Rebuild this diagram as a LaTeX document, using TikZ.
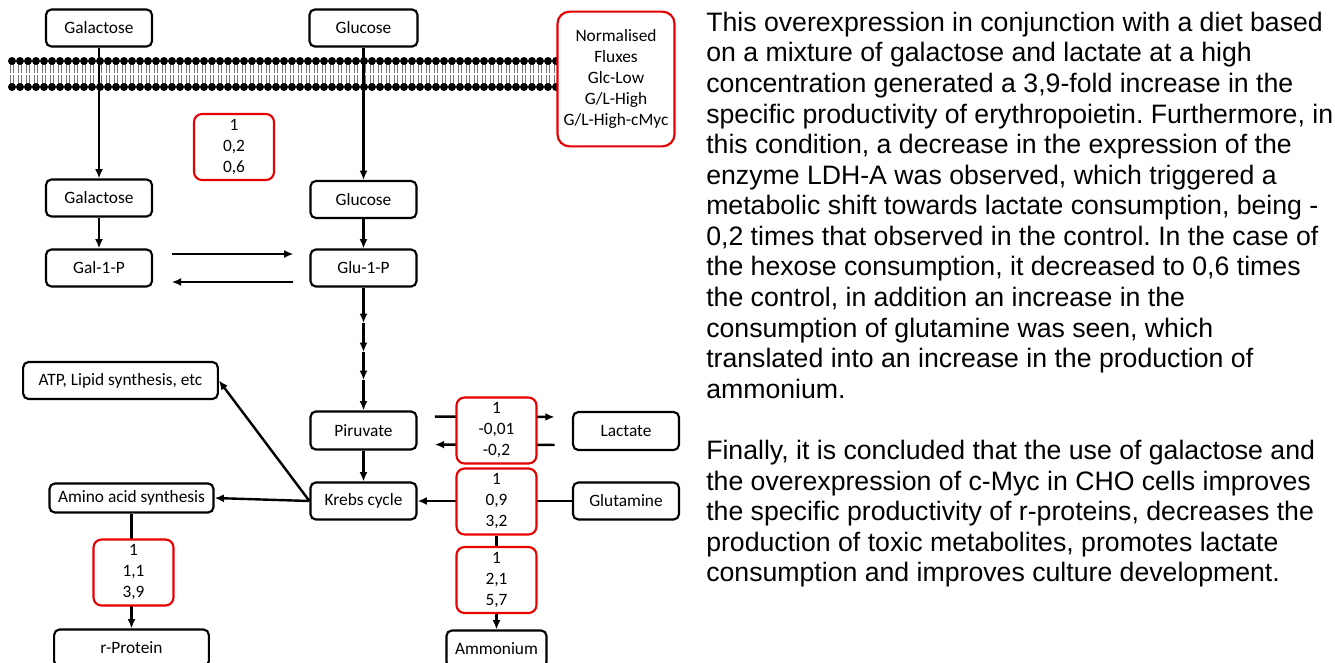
\documentclass[tikz,border=0pt]{standalone}
\usepackage{fontspec}
\setmainfont{Carlito}
\newfontfamily\paperfont{Liberation Sans}
\usetikzlibrary{arrows.meta}
\definecolor{fluxred}{RGB}{230,0,0}
\frenchspacing
\tikzset{
	metab/.style={draw, line width=1.6pt, rounded corners=4pt, fill=white, inner sep=0pt,
		minimum width=79.5pt, minimum height=27.75pt, font=\fontsize{13}{15.75}\selectfont},
	flux/.style={draw=fluxred, line width=1.6pt, rounded corners=6pt, fill=white, inner sep=0pt,
		align=center, minimum width=60pt, minimum height=49.5pt, font=\fontsize{13}{15.75}\selectfont},
	flow/.style={line width=1.8pt},
}
\begin{document}
\begin{tikzpicture}[x=0.75pt,y=-0.75pt,>={Latex[length=7pt,width=6pt]}]
			\useasboundingbox (0,0) rectangle (1335,662);
			\clip (0,0) rectangle (1335,662);
			\foreach \i in {0,...,68} {
				\draw[black!55, line width=0.5pt] (10.5+8*\i,64)--(10.5+8*\i,73) (13.5+8*\i,64)--(13.5+8*\i,73)
					(10.5+8*\i,75)--(10.5+8*\i,84) (13.5+8*\i,75)--(13.5+8*\i,84);
				\fill (12+8*\i,61) circle (3pt) (12+8*\i,87) circle (3pt);
			}
			\node[metab] (galout) at (99,28) {Galactose};
			\node[metab, minimum width=81pt] (glcout) at (363.5,28) {Glucose};
			\node[metab] (galin) at (99,198) {Galactose};
			\node[metab] (glcin) at (363.5,199.5) {Glucose};
			\node[metab] (galp) at (99,268) {Gal-1-P};
			\node[metab] (glup) at (363.5,268) {Glu-1-P};
			\node[metab, minimum width=146pt] (atp) at (120.5,380.5) {ATP, Lipid synthesis, etc};
			\node[metab, minimum height=28.5pt] (piru) at (363.5,430.5) {Piruvate};
			\node[metab, minimum height=28.5pt] (lact) at (626,431) {Lactate};
			\node[metab] (krebs) at (363.5,501) {Krebs cycle};
			\node[metab] (gln) at (626,501) {Glutamine};
			\node[metab, minimum width=123pt, minimum height=21.75pt] (amino) at (131.5,498) {Amino acid synthesis};
			\node[metab, minimum width=116pt] (rprot) at (131.5,648) {r-Protein};
			\node[metab, minimum width=75pt] (ammon) at (496.5,649) {Ammonium};
			\coordinate (s1) at (363.5,323);
			\coordinate (s2) at (363.5,352);
			\coordinate (s3) at (363.5,380);
			\draw[flow,->] (galout)--(galin);
			\draw[flow,->] (glcout)--(glcin);
			\draw[flow,->] (galin)--(galp);
			\draw[flow,->] (glcin)--(glup);
			\draw[flow,->,shorten <=14pt,shorten >=12pt] ([yshift=10.5pt]galp.east)--([yshift=10.5pt]glup.west);
			\draw[flow,->,shorten <=12pt,shorten >=14pt] ([yshift=-10.5pt]glup.west)--([yshift=-10.5pt]galp.east);
			\draw[flow,->] (glup)--(s1);
			\draw[flow,->] (s1)--(s2);
			\draw[flow,->] (s2)--(s3);
			\draw[flow,->] (s3)--(piru);
			\draw[flow,->] (piru)--(krebs);
			\draw[flow,->,shorten <=13pt,shorten >=13pt] ([yshift=10.5pt]piru.east)--([yshift=10.5pt]lact.west);
			\draw[flow,->,shorten <=13pt,shorten >=13pt] ([yshift=-10.5pt]lact.west)--([yshift=-10.5pt]piru.east);
			\draw[flow,->] (gln)--(krebs);
			\draw[flow,->] (krebs.west)--(amino.east);
			\draw[flow,->] (krebs.west)--(atp.east);
			\draw[flow,->] (amino)--(rprot);
			\node[flux] (fhex) at (234,147) {1\\0,2\\0,6};
			\node[flux, minimum width=87.75pt, minimum height=101pt, rounded corners=9pt] (fnorm) at (616,79)
				{Normalised\\Fluxes\\Glc-Low\\G/L-High\\G/L-High-cMyc};
			\node[flux] (flac) at (496.5,430.5) {1\\-0,01\\-0,2};
			\node[flux] (fgln) at (496.5,501.5) {1\\0,9\\3,2};
			\node[flux] (fprot) at (133.5,572.5) {1\\1,1\\3,9};
			\draw[flow,->] (fgln)--(ammon);
			\node[flux] (famm) at (496.5,580) {1\\2,1\\5,7};
			\node[anchor=north west, align=left, inner sep=0pt, font=\paperfont\fontsize{20}{22.94}\selectfont] (summary) at (706,11.7)
				{This overexpression in conjunction with a diet based\\
				on a mixture of galactose and lactate at a high\\
				concentration generated a 3,9-fold increase in the\\
				specific productivity of erythropoietin. Furthermore, in\\
				this condition, a decrease in the expression of the\\
				enzyme LDH-A was observed, which triggered a\\
				metabolic shift towards lactate consumption, being -\\
				0,2 times that observed in the control. In the case of\\
				the hexose consumption, it decreased to 0,6 times\\
				the control, in addition an increase in the\\
				consumption of glutamine was seen, which\\
				translated into an increase in the production of\\
				ammonium.\\[22.94pt]
				Finally, it is concluded that the use of galactose and\\
				the overexpression of c-Myc in CHO cells improves\\
				the specific productivity of r-proteins, decreases the\\
				production of toxic metabolites, promotes lactate\\
				consumption and improves culture development.};
\end{tikzpicture}
\end{document}
